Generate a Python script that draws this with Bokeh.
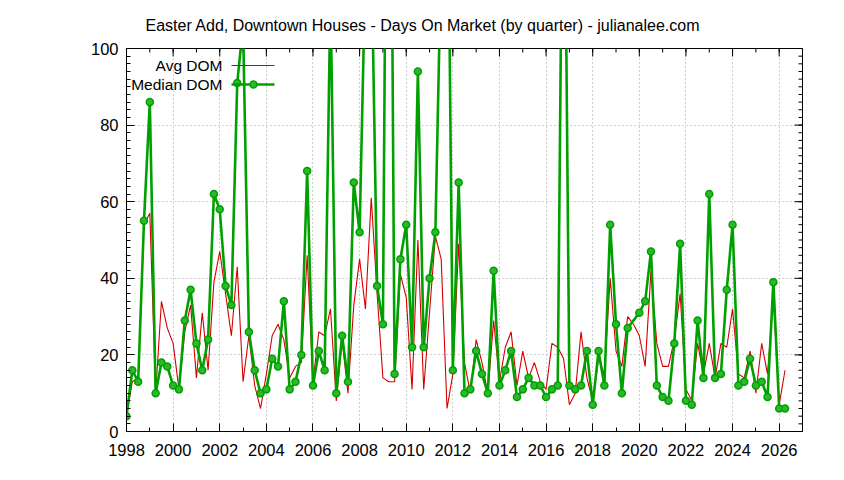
from bokeh.plotting import figure
from bokeh.models import Range1d, FixedTicker, ColumnDataSource
from bokeh.core.properties import value
from bokeh.embed import file_html
from bokeh.resources import INLINE

# ---------------- data ----------------
title_text = "Easter Add, Downtown Houses - Days On Market (by quarter) - julianalee.com"
series_names = ["Avg DOM", "Median DOM"]

# quarterly time axis, 1998 Q1 .. 2026 Q2
quarters = [1998 + 0.25 * i for i in range(114)]

avg_dom = [
    4, 13, 14, 54,      # 1998
    57, 10, 34, 27,     # 1999
    23, 11, 26, 33,     # 2000
    14, 31, 16, 39,     # 2001
    47, 36, 25, 43,     # 2002
    13, 25, 12, 6,      # 2003
    15, 25, 28, 24,     # 2004
    14, 17, 18, 46,     # 2005
    13, 26, 25, 32,     # 2006
    8, 24, 10, 33,      # 2007
    45, 32, 61, 36,     # 2008
    14, 13, 13, 41,     # 2009
    35, 11, 50, 11,     # 2010
    31, 51, 45, 6,      # 2011
    15, 49, 18, 10,     # 2012
    24, 18, 10, 29,     # 2013
    13, 22, 26, 12,     # 2014
    21, 14, 18, 13,     # 2015
    11, 23, 22, 19,     # 2016
    7, 10, 26, 14,      # 2017
    8, 19, 15, 40,      # 2018
    21, 17, 30, 28,     # 2019
    25, 17, 42, 23,     # 2020
    17, 17, 24, 36,     # 2021
    11, 8, 23, 15,      # 2022
    23, 14, 23, 22,     # 2023
    32, 15, 14, 21,     # 2024
    10, 23, 15, 35,     # 2025
    7, 16,              # 2026
]

median_dom = [
    4, 16, 13, 55,      # 1998
    86, 10, 18, 17,     # 1999
    12, 11, 29, 37,     # 2000
    23, 16, 24, 62,     # 2001
    58, 38, 33, 91,     # 2002
    106, 26, 16, 10,    # 2003
    11, 19, 17, 34,     # 2004
    11, 13, 20, 68,     # 2005
    12, 21, 16, 115,    # 2006
    10, 25, 13, 65,     # 2007
    52, 122, 128, 38,   # 2008
    28, 250, 15, 45,    # 2009
    54, 22, 94, 22,     # 2010
    40, 52, 125, 170,   # 2011
    16, 65, 10, 11,     # 2012
    21, 15, 10, 42,     # 2013
    12, 16, 21, 9,      # 2014
    11, 14, 12, 12,     # 2015
    9, 11, 12, 180,     # 2016
    12, 11, 12, 21,     # 2017
    7, 21, 12, 54,      # 2018
    28, 10, 27, None,   # 2019
    31, 34, 47, 12,     # 2020
    9, 8, 23, 49,       # 2021
    8, 7, 29, 14,       # 2022
    62, 14, 15, 37,     # 2023
    54, 12, 13, 19,     # 2024
    12, 13, 9, 39,      # 2025
    6, 6,               # 2026
]

x_major_ticks = list(range(1998, 2027, 2))
x_minor_ticks = list(range(1998, 2028))
y_major_ticks = list(range(0, 101, 20))
y_minor_ticks = list(range(0, 101, 2))

# ---------------- styling ----------------
FONT = "Liberation Sans"
FS = "16.5px"
TITLE_FS = "16px"
KEY_FS = "15.5px"
RED = "#d40000"
GREEN = "#00a000"
MARK_FILL = "#2cb82c"

FRAME_W, FRAME_H = 676, 383
MAJ, MIN = 8, 4

p = figure(width=836, height=472,
           x_range=Range1d(1998, 2027), y_range=Range1d(0, 100),
           output_backend="svg", toolbar_location=None,
           min_border_left=126, min_border_right=34,
           min_border_top=48, min_border_bottom=41)

p.background_fill_color = "white"
p.border_fill_color = "white"
p.outline_line_color = "black"
p.outline_line_width = 1

p.title.text = title_text
p.title.align = "left"
p.title.offset = 19
p.title.text_font = FONT
p.title.text_font_size = TITLE_FS
p.title.text_font_style = "normal"
p.title.text_color = "black"
p.title.standoff = 29

xt = FixedTicker(ticks=x_major_ticks, minor_ticks=x_minor_ticks)
yt = FixedTicker(ticks=y_major_ticks, minor_ticks=y_minor_ticks)

bottom_axis = p.below[0]
left_axis = p.left[0]
for ax, tk in ((bottom_axis, xt), (left_axis, yt)):
    ax.ticker = tk
    ax.axis_line_color = "black"
    ax.major_tick_line_color = "black"
    ax.minor_tick_line_color = "black"
    ax.major_tick_in = MAJ
    ax.major_tick_out = 0
    ax.minor_tick_in = MIN
    ax.minor_tick_out = 0
    ax.major_label_text_font = FONT
    ax.major_label_text_font_size = FS
    ax.major_label_text_color = "black"
bottom_axis.major_label_standoff = 12
left_axis.major_label_standoff = 8

p.xgrid.ticker = xt
p.ygrid.ticker = yt
for g in (p.xgrid[0], p.ygrid[0]):
    g.grid_line_color = "#a0a0a0"
    g.grid_line_dash = "1 3"
    g.grid_line_width = 1

# pixel ranges for frame-anchored decorations (mirror ticks, key)
p.extra_x_ranges = {"px": Range1d(0, FRAME_W)}
p.extra_y_ranges = {"px": Range1d(0, FRAME_H)}

# mirrored ticks on top and right border (gnuplot style)
p.segment(x0=x_major_ticks, x1=x_major_ticks,
          y0=[FRAME_H] * len(x_major_ticks), y1=[FRAME_H - MAJ] * len(x_major_ticks),
          y_range_name="px", line_color="black", line_width=1)
p.segment(x0=x_minor_ticks, x1=x_minor_ticks,
          y0=[FRAME_H] * len(x_minor_ticks), y1=[FRAME_H - MIN] * len(x_minor_ticks),
          y_range_name="px", line_color="black", line_width=1)
p.segment(y0=y_major_ticks, y1=y_major_ticks,
          x0=[FRAME_W] * len(y_major_ticks), x1=[FRAME_W - MAJ] * len(y_major_ticks),
          x_range_name="px", line_color="black", line_width=1)
p.segment(y0=y_minor_ticks, y1=y_minor_ticks,
          x0=[FRAME_W] * len(y_minor_ticks), x1=[FRAME_W - MIN] * len(y_minor_ticks),
          x_range_name="px", line_color="black", line_width=1)

# ---------------- series ----------------
avg_src = ColumnDataSource(dict(x=quarters, y=avg_dom))
med_x = [q for q, m in zip(quarters, median_dom) if m is not None]
med_y = [m for m in median_dom if m is not None]
med_src = ColumnDataSource(dict(x=med_x, y=med_y))

p.line("x", "y", source=avg_src, line_color=RED, line_width=1.1)
p.line("x", "y", source=med_src, line_color=GREEN, line_width=2.6)
p.scatter("x", "y", source=med_src, marker="circle", size=7,
          fill_color=MARK_FILL, line_color=GREEN, line_width=1.5)

# ---------------- gnuplot-style key (text right, sample left) ----------------
key_rows_y = [366, 347]
p.text(x=[96, 96], y=key_rows_y, text=series_names,
       text_align="right", text_baseline="middle",
       text_font=value(FONT), text_font_size=KEY_FS, text_color="black",
       x_range_name="px", y_range_name="px")
p.line(x=[105, 148], y=[key_rows_y[0]] * 2, line_color=RED, line_width=1.1,
       x_range_name="px", y_range_name="px")
p.line(x=[105, 148], y=[key_rows_y[1]] * 2, line_color=GREEN, line_width=2.6,
       x_range_name="px", y_range_name="px")
p.scatter(x=[127], y=[key_rows_y[1]], marker="circle", size=7,
          fill_color=MARK_FILL, line_color=GREEN, line_width=1.5,
          x_range_name="px", y_range_name="px")

open("out.html", "w").write(file_html(p, INLINE))
